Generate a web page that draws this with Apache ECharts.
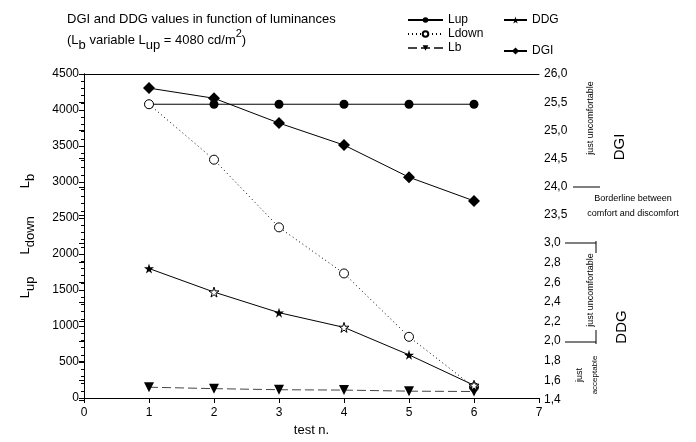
<!DOCTYPE html>
<html>
<head>
<meta charset="utf-8">
<script src="https://cdn.jsdelivr.net/npm/echarts@6/dist/echarts.min.js"></script>
<style>
html, body { margin: 0; padding: 0; background: #fff; }
#chart { width: 696px; height: 442px; }
</style>
</head>
<body>
<div id="chart"></div>
<script>
// test number on x, luminances on the left, DGI / DDG on the two right axes
const tests = [1, 2, 3, 4, 5, 6]
const lup = [4080, 4080, 4080, 4080, 4080, 4080]
const ldown = [4080, 3310, 2370, 1730, 850, 150]
const lb = [150, 130, 115, 110, 95, 90]
const ddg = [2.74, 2.5, 2.29, 2.14, 1.86, 1.55]
const ddgOpen = [false, true, false, true, false, true]
const dgi = [25.75, 25.57, 25.13, 24.74, 24.17, 23.75]

const font = "'Liberation Sans', Arial, sans-serif"
const black = "#000"
const star = "path://M50,0 L61,35 L98,35 L68,57 L79,91 L50,70 L21,91 L32,57 L2,35 L39,35 Z"

const pairs = (vals) => tests.map((t, i) => [t, vals[i]])
const comma = (d) => (v) => v.toFixed(d).replace(".", ",")

const axisText = { color: black, fontSize: 12, fontFamily: font }
const rich = {
  n: { fontSize: 13, lineHeight: 14, fontFamily: font, fontWeight: "normal", color: black },
  s: { fontSize: 13, lineHeight: 14, padding: [10, 0, 0, 0], fontFamily: font, fontWeight: "normal", color: black },
  p: { fontSize: 11, lineHeight: 12, padding: [0, 0, 12, 0], fontFamily: font, fontWeight: "normal", color: black },
  g1: { width: 22 },
  g2: { width: 28 }
}

const note = (x, y, text, size, rot) => ({
  type: "text",
  x: x,
  y: y,
  rotation: rot ? Math.PI / 2 : 0,
  style: { text: text, fontSize: size, fontFamily: font, fill: black, align: "center", verticalAlign: "middle" }
})
const seg = (x1, y1, x2, y2) => ({
  type: "line",
  shape: { x1: x1, y1: y1, x2: x2, y2: y2 },
  style: { stroke: black, lineWidth: 1 }
})

const hiddenX = (i) => ({ gridIndex: i, type: "value", min: 0, max: 7, show: false })

let option = {
  animation: false,
  title: [
    { text: "DGI and DDG values in function of luminances", left: 62, top: 8,
      textStyle: { fontSize: 13, fontWeight: "normal", fontFamily: font, color: black } },
    { text: "{n|(L}{s|b}{n| variable L}{s|up}{n| = 4080 cd/m}{p|2}{n|)}", left: 62, top: 28,
      textStyle: { fontWeight: "normal", rich: rich } }
  ],
  legend: [
    { data: ["Lup", "Ldown", "Lb"], orient: "vertical", left: 402, top: 9, itemWidth: 35, itemHeight: 7,
      itemGap: 2, textStyle: { fontSize: 12, fontFamily: font, color: black } },
    { data: ["DDG", "DGI"], orient: "vertical", left: 498, top: 9, itemWidth: 23, itemHeight: 9,
      itemGap: 19, textStyle: { fontSize: 12, fontFamily: font, color: black } }
  ],
  grid: [
    { left: 84, right: 157, top: 74, bottom: 42 },
    { left: 84, right: 157, top: 74, height: 141 },
    { left: 84, right: 157, top: 243, height: 157 }
  ],
  xAxis: [
    { gridIndex: 0, type: "value", min: 0, max: 7, interval: 1, position: "bottom",
      axisLine: { lineStyle: { color: black } }, axisTick: { length: 5, lineStyle: { color: black } },
      axisLabel: Object.assign({ margin: 9 }, axisText), splitLine: { show: false },
      name: "test n.", nameLocation: "middle", nameGap: 26,
      nameTextStyle: { fontSize: 13, fontFamily: font, color: black } },
    { gridIndex: 0, type: "value", min: 0, max: 7, position: "top",
      axisLine: { lineStyle: { color: black } }, axisTick: { show: false },
      axisLabel: { show: false }, splitLine: { show: false } },
    hiddenX(1),
    hiddenX(2)
  ],
  yAxis: [
    { gridIndex: 0, type: "value", min: 0, max: 4500, interval: 500,
      axisLine: { show: true, lineStyle: { color: black } },
      axisTick: { show: true, length: 5, lineStyle: { color: black } },
      minorTick: { show: true, splitNumber: 5, length: 3, lineStyle: { color: black } },
      axisLabel: Object.assign({ margin: 5, formatter: (v) => String(v) }, axisText), splitLine: { show: false },
      name: "{n|L}{s|up}{g1| }{n|L}{s|down}{g2| }{n|L}{s|b}", nameLocation: "middle", nameRotate: 90, nameGap: 52,
      nameTextStyle: { rich: rich } },
    { gridIndex: 1, type: "value", position: "right", min: 23.5, max: 26, interval: 0.5,
      axisLine: { show: true, lineStyle: { color: black } },
      axisTick: { show: true, inside: true, length: 5, lineStyle: { color: black } },
      axisLabel: Object.assign({ margin: 5, formatter: comma(1) }, axisText), splitLine: { show: false } },
    { gridIndex: 2, type: "value", position: "right", min: 1.4, max: 3.0, interval: 0.2,
      axisLine: { show: true, lineStyle: { color: black } },
      axisTick: { show: true, inside: true, length: 5, lineStyle: { color: black } },
      axisLabel: Object.assign({ margin: 5, formatter: comma(1) }, axisText), splitLine: { show: false } }
  ],
  series: [
    { name: "Lup", type: "line", xAxisIndex: 0, yAxisIndex: 0, data: pairs(lup),
      symbol: "circle", symbolSize: 9, lineStyle: { color: black, width: 1 }, itemStyle: { color: black } },
    { name: "Ldown", type: "line", xAxisIndex: 0, yAxisIndex: 0, data: pairs(ldown),
      symbol: "circle", symbolSize: 9, lineStyle: { color: black, width: 1, type: [1, 3] },
      itemStyle: { color: "#fff", borderColor: black, borderWidth: 1 } },
    { name: "Lb", type: "line", xAxisIndex: 0, yAxisIndex: 0, data: pairs(lb),
      symbol: "triangle", symbolRotate: 180, symbolSize: 10,
      lineStyle: { color: "#444", width: 1, type: [9, 4] }, itemStyle: { color: black } },
    { name: "DDG", type: "line", xAxisIndex: 3, yAxisIndex: 2,
      data: tests.map((t, i) => ({
        value: [t, ddg[i]],
        itemStyle: ddgOpen[i] ? { color: "#fff", borderColor: black, borderWidth: 1 } : { color: black }
      })),
      symbol: star, symbolSize: 10, lineStyle: { color: black, width: 1 }, itemStyle: { color: black } },
    { name: "DGI", type: "line", xAxisIndex: 2, yAxisIndex: 1, data: pairs(dgi),
      symbol: "diamond", symbolSize: 12, lineStyle: { color: black, width: 1 }, itemStyle: { color: black } }
  ],
  graphic: [
    // DGI side notes
    seg(573, 187, 600, 187),
    note(633, 199, "Borderline between", 9),
    note(633, 214, "comfort and discomfort", 9),
    note(591, 118, "just uncomfortable", 9, true),
    note(620, 147, "DGI", 15, true),
    // DDG side notes
    seg(565, 243, 596, 243),
    seg(596, 241, 596, 253),
    seg(565, 342, 596, 342),
    seg(596, 330, 596, 344),
    note(591, 290, "just uncomfortable", 9, true),
    note(622, 327, "DDG", 15, true),
    note(580, 375, "just", 9, true),
    note(595, 375, "acceptable", 8, true)
  ]
}

const chart = echarts.init(document.getElementById("chart"))
chart.setOption(option)
</script>
</body>
</html>
